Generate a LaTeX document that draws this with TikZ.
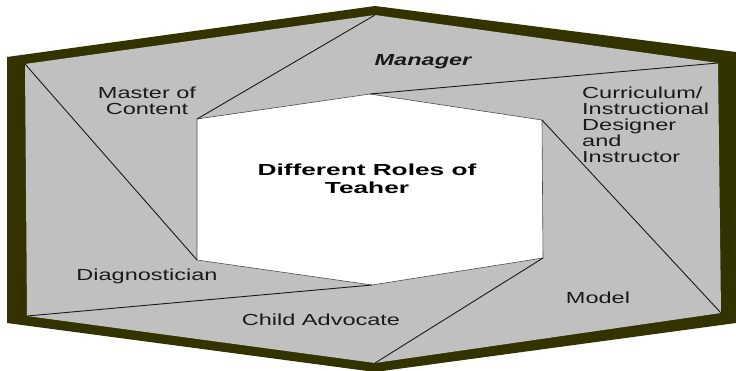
\documentclass[tikz,border=0pt]{standalone}
\usepackage{fontspec}
\setmainfont[FakeStretch=1.47]{Liberation Sans}
\newfontfamily\headfont[FakeStretch=1.64]{Liberation Sans}
\definecolor{rimcol}{HTML}{333300}
\definecolor{panelcol}{HTML}{C0C0C0}
\definecolor{inkcol}{HTML}{1A1A1A}
\tikzset{
  rim/.style={fill=rimcol, draw=none},
  panel/.style={fill=panelcol, draw=none},
  hub/.style={fill=white, draw=black!70, line width=0.6pt},
  divider/.style={draw=inkcol, line width=0.9pt},
  role/.style={inner sep=0pt, text=inkcol, align=center,
    font=\fontsize{16}{16}\selectfont},
  title/.style={inner sep=0pt, text=black, align=center,
    font=\headfont\bfseries\fontsize{16}{18}\selectfont}
}
\begin{document}
\begin{tikzpicture}[x=1pt, y=-1pt]
\useasboundingbox (0,0) rectangle (736,370);

% outer frame corners
\coordinate (oTL) at (7,57);
\coordinate (oT)  at (375,6);
\coordinate (oTR) at (736,52);
\coordinate (oBR) at (736,323);
\coordinate (oB)  at (375,372);
\coordinate (oBL) at (7,323);
% inner (grey) corners
\coordinate (iTL) at (25,64);
\coordinate (iT)  at (375,15);
\coordinate (iTR) at (718,63);
\coordinate (iBR) at (721,313);
\coordinate (iB)  at (375,363);
\coordinate (iBL) at (27,316);
% central white hexagon corners
\coordinate (cTL) at (197,119);
\coordinate (cT)  at (370,94);
\coordinate (cTR) at (542,120);
\coordinate (cBR) at (543,258);
\coordinate (cB)  at (372,285);
\coordinate (cBL) at (197,260);

\fill[rim] (oTL) -- (oT) -- (oTR) -- (oBR) -- (oB) -- (oBL) -- cycle;
\fill[panel] (iTL) -- (iT) -- (iTR) -- (iBR) -- (iB) -- (iBL) -- cycle;
\filldraw[hub] (cTL) -- (cT) -- (cTR) -- (cBR) -- (cB) -- (cBL) -- cycle;

% shutter dividers
\draw[divider] (iTL) -- (cBL);
\draw[divider] (cTL) -- (iT);
\draw[divider] (cT) -- (iTR);
\draw[divider] (cTR) -- (iBR);
\draw[divider] (cBR) -- (iB);
\draw[divider] (cB) -- (iBL);

% role labels
\node[role] (master) at (147,100.5) {Master of\\Content};
\node[role, font=\bfseries\itshape\fontsize{16}{16}\selectfont] (manager) at (423,62) {Manager};
\node[role, align=left, anchor=west] (designer) at (582,125)
  {Curriculum/\\Instructional\\Designer\\and\\Instructor};
\node[role] (diag) at (147,276) {Diagnostician};
\node[role] (advocate) at (321,320) {Child Advocate};
\node[role] (model) at (598,298) {Model};
\node[title] (centre) at (367,179) {Different Roles of\\Teaher};
\end{tikzpicture}
\end{document}
